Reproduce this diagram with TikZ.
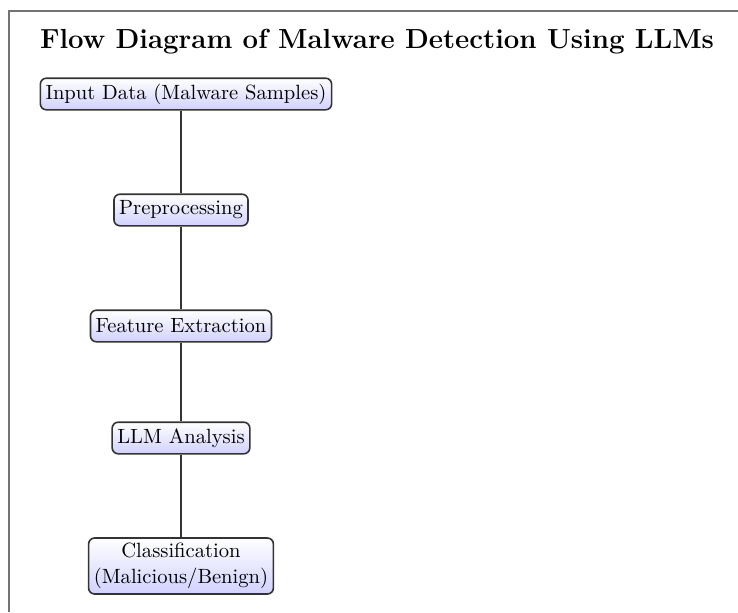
\documentclass[tikz,border=0pt]{standalone}
\usetikzlibrary{positioning}
\begin{document}
\begin{tikzpicture}[x=0.5pt,y=-0.5pt,
  stepbox/.style={draw=black!80, line width=0.8pt, rounded corners=3pt,
    top color=white, bottom color=blue!18, inner xsep=2.6pt, inner ysep=0pt,
    minimum height=15.8pt, font=\fontsize{10.3}{12.8}\selectfont, align=center},
  conn/.style={draw=black!80, line width=0.8pt}]
\useasboundingbox (0,0) rectangle (738,612);
\draw[black!55, line width=0.7pt] (9,612) -- (9,11) -- (738,11);
\node[font=\fontsize{13.8}{16}\selectfont\bfseries] (title) at (377,42) {Flow Diagram of Malware Detection Using LLMs};
\node[stepbox] (n1) at (186,94) {Input Data (Malware Samples)};
\node[stepbox] (n2) at (181,210) {Preprocessing};
\node[stepbox] (n3) at (181,326) {Feature Extraction};
\node[stepbox] (n4) at (181,438) {LLM Analysis};
\node[stepbox, minimum height=28pt] (n5) at (181,566) {Classification\\(Malicious/Benign)};
\draw[conn] (n1.south -| n2.north) -- (n2.north);
\draw[conn] (n2) -- (n3);
\draw[conn] (n3) -- (n4);
\draw[conn] (n4) -- (n5);
\end{tikzpicture}
\end{document}
